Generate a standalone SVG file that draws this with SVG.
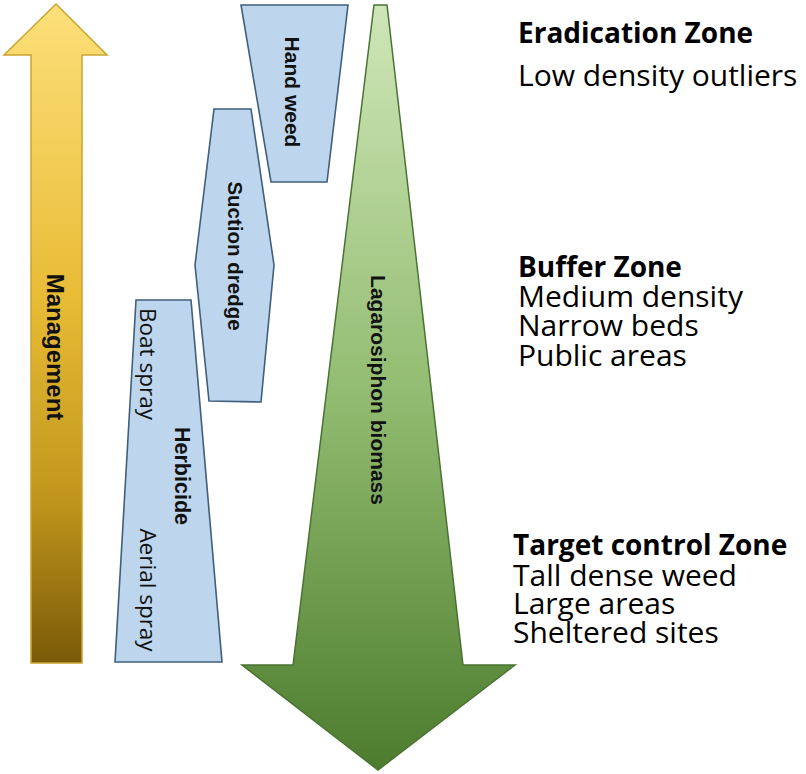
<svg xmlns="http://www.w3.org/2000/svg" width="806" height="774" viewBox="0 0 806 774">
<defs>
<linearGradient id="gy" x1="0" y1="0" x2="0" y2="1">
<stop offset="0" stop-color="#fde07a"/>
<stop offset="0.45" stop-color="#e8bb35"/>
<stop offset="0.75" stop-color="#c1961c"/>
<stop offset="1" stop-color="#7a5a08"/>
</linearGradient>
<linearGradient id="gg" x1="0" y1="0" x2="0" y2="1">
<stop offset="0" stop-color="#cfe6b8"/>
<stop offset="0.5" stop-color="#93bd72"/>
<stop offset="1" stop-color="#4d7c2e"/>
</linearGradient>
<style>
.blue{fill:#bdd6ee;stroke:#3f5f7c;stroke-width:1.6;stroke-linejoin:miter}
.lb{font-family:"Liberation Sans",Arial,sans-serif;font-weight:bold;fill:#111;text-anchor:middle}
.lr{font-family:"Open Sans","Liberation Sans",sans-serif;fill:#111;text-anchor:middle}
.h{font-family:"Open Sans","Liberation Sans",sans-serif;font-weight:bold;font-size:28px;fill:#000}
.t{font-family:"Open Sans","Liberation Sans",sans-serif;font-size:30px;fill:#000}
</style>
</defs>
<g id="management">
<polygon points="56,4 107,55 82,55 82,663 31,663 31,55 4,55" fill="url(#gy)" stroke="#c9a530" stroke-width="1.5"/>
<text class="lb" font-size="24" transform="translate(47,347) rotate(90)">Management</text>
</g>
<g id="biomass">
<polygon points="374,5 387,5 463,665 515,665 378,770 242,665 293,665" fill="url(#gg)" stroke="#4a7333" stroke-width="1.5"/>
<text class="lb" font-size="21" transform="translate(371,390) rotate(90)">Lagarosiphon biomass</text>
</g>
<g id="hand-weed">
<polygon class="blue" points="241,5 348,5 327,182 271,182"/>
<text class="lb" font-size="21" transform="translate(285,92) rotate(90)">Hand weed</text>
</g>
<g id="suction-dredge">
<polygon class="blue" points="214,109 251,109 274,265 261,402 209,401 195,265"/>
<text class="lb" font-size="20.5" transform="translate(228,256) rotate(90)">Suction dredge</text>
</g>
<g id="herbicide">
<polygon class="blue" points="136,300 191,300 222,662 115,662"/>
<text class="lb" font-size="21.5" transform="translate(175,476) rotate(90)">Herbicide</text>
<text class="lr" font-size="22.5" transform="translate(140,364) rotate(90)">Boat spray</text>
<text class="lr" font-size="22.5" transform="translate(140,590) rotate(90)">Aerial spray</text>
</g>
<g id="connectors"></g>
<g id="eradication-zone">
<text class="h" x="518" y="43">Eradication Zone</text>
<text class="t" x="518" y="86">Low density outliers</text>
</g>
<g id="buffer-zone">
<text class="h" x="518" y="277">Buffer Zone</text>
<text class="t" x="518" y="307">Medium density</text>
<text class="t" x="518" y="336">Narrow beds</text>
<text class="t" x="518" y="366">Public areas</text>
</g>
<g id="target-control-zone">
<text class="h" x="513" y="555">Target control Zone</text>
<text class="t" x="513" y="586">Tall dense weed</text>
<text class="t" x="513" y="614">Large areas</text>
<text class="t" x="513" y="643">Sheltered sites</text>
</g>
</svg>
